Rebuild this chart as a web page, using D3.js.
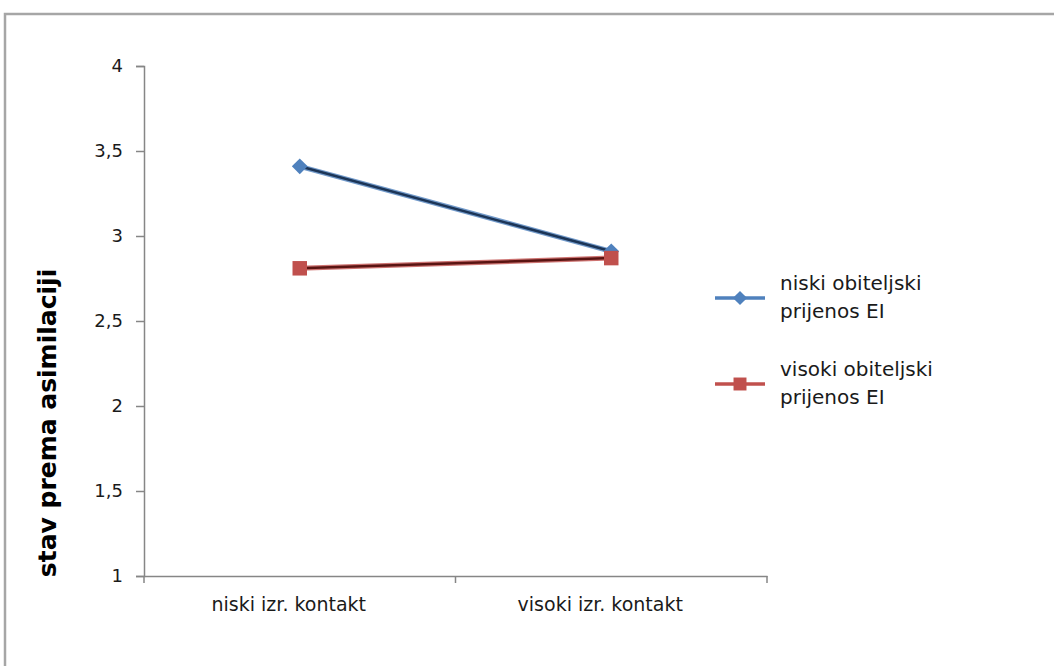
<!DOCTYPE html>
<html>
<head>
<meta charset="utf-8">
<script src="https://cdn.jsdelivr.net/npm/d3@7"></script>
<style>
  body { margin: 0; background: #fff; }
  text { font-family: "DejaVu Sans", sans-serif; }
</style>
</head>
<body>
<div id="chart"></div>
<script>
const categories = ['niski izr. kontakt', 'visoki izr. kontakt'];
const seriesNames = [['niski obiteljski', 'prijenos EI'], ['visoki obiteljski', 'prijenos EI']];
const lowTransfer = [3.41, 2.91];
const highTransfer = [2.81, 2.87];
const yTicks = [1, 1.5, 2, 2.5, 3, 3.5, 4];

const W = 1054, H = 666;
const margin = { left: 144, right: 287, top: 66, bottom: 90 };
const width = W - margin.left - margin.right;
const height = H - margin.top - margin.bottom;

const svg = d3.select('#chart').append('svg')
  .attr('width', W)
  .attr('height', H);

// outer chart frame
svg.append('rect')
  .attr('x', 5).attr('y', 14)
  .attr('width', W + 20).attr('height', H + 20)
  .attr('fill', 'none')
  .attr('stroke', '#a6a6a6')
  .attr('stroke-width', 2.5);

const g = svg.append('g')
  .attr('transform', `translate(${margin.left}, ${margin.top})`);

const x = d3.scaleBand()
  .domain(categories)
  .range([0, width]);

const y = d3.scaleLinear()
  .domain([1, 4])
  .range([height, 0]);

const fmt = d => String(d).replace('.', ',');

// y axis
const yAxis = g.append('g')
  .call(d3.axisLeft(y).tickValues(yTicks).tickFormat(fmt).tickSize(8).tickPadding(13));
yAxis.select('.domain').attr('stroke', '#868686').attr('stroke-width', 1.5);
yAxis.selectAll('.tick line').attr('stroke', '#868686').attr('stroke-width', 1.5);
yAxis.selectAll('.tick text').attr('font-size', '18px').attr('fill', '#1a1a1a');

// x axis
const xAxis = g.append('g')
  .attr('transform', `translate(0, ${height})`)
  .call(d3.axisBottom(x).tickSize(0).tickPadding(22));
xAxis.select('.domain').attr('stroke', '#868686').attr('stroke-width', 1.5);
xAxis.selectAll('.tick text')
  .attr('font-size', '19px')
  .attr('fill', '#1a1a1a')
  .attr('dx', -11);
// category boundary ticks
g.selectAll('.xsep')
  .data([0, 1, 2])
  .enter().append('line')
  .attr('x1', i => i * x.step()).attr('x2', i => i * x.step())
  .attr('y1', height).attr('y2', height + 7)
  .attr('stroke', '#868686').attr('stroke-width', 1.5);

// y title
g.append('text')
  .attr('transform', 'rotate(-90)')
  .attr('x', -(height / 2) - 102)
  .attr('y', -88)
  .attr('text-anchor', 'middle')
  .attr('font-size', '25px')
  .attr('font-weight', 'bold')
  .attr('fill', '#000')
  .text('stav prema asimilaciji');

const cx = d => x(d) + x.bandwidth() / 2;
const line = d3.line()
  .x((d, i) => cx(categories[i]))
  .y(d => y(d));

const series = [
  { values: lowTransfer, color: '#4f81bd', dark: '#1c3557', marker: d3.symbolSquare, size: 125, rotate: 45 },
  { values: highTransfer, color: '#c0504d', dark: '#5a1412', marker: d3.symbolSquare, size: 210, rotate: 0 }
];

series.forEach(s => {
  g.append('path')
    .datum(s.values)
    .attr('d', line)
    .attr('fill', 'none')
    .attr('stroke', s.color)
    .attr('stroke-width', 5)
    .attr('stroke-opacity', 0.8);
  g.append('path')
    .datum(s.values)
    .attr('d', line)
    .attr('fill', 'none')
    .attr('stroke', s.dark)
    .attr('stroke-width', 2.5);
});

series.forEach(s => {
  g.selectAll(null)
    .data(s.values)
    .enter().append('path')
    .attr('d', d3.symbol().type(s.marker).size(s.size))
    .attr('transform', (d, i) => `translate(${cx(categories[i])}, ${y(d)}) rotate(${s.rotate})`)
    .attr('fill', s.color);
});

// legend
const legend = svg.append('g').attr('transform', 'translate(715, 298)');
series.forEach((s, i) => {
  const row = legend.append('g').attr('transform', `translate(0, ${i * 86})`);
  row.append('line')
    .attr('x1', 0).attr('x2', 50)
    .attr('stroke', s.color).attr('stroke-width', 3.5);
  row.append('path')
    .attr('d', d3.symbol().type(s.marker).size(s.size * 0.8))
    .attr('transform', `translate(25, 0) rotate(${s.rotate})`)
    .attr('fill', s.color);
  row.append('text')
    .attr('x', 65).attr('y', -8)
    .attr('font-size', '20px').attr('fill', '#1a1a1a')
    .text(seriesNames[i][0]);
  row.append('text')
    .attr('x', 65).attr('y', 20)
    .attr('font-size', '20px').attr('fill', '#1a1a1a')
    .text(seriesNames[i][1]);
});
</script>
</body>
</html>
